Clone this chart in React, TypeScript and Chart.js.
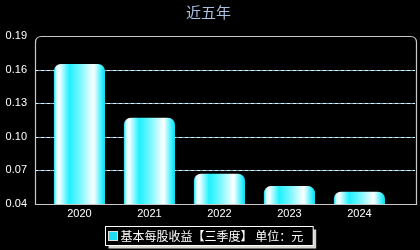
import React, { useEffect, useRef } from "react";
import { Chart, registerables } from "chart.js";

Chart.register(...registerables);

const categories = ["2020", "2021", "2022", "2023", "2024"];
const epsValues = [0.165, 0.117, 0.067, 0.056, 0.051];
const yTicks = [0.04, 0.07, 0.1, 0.13, 0.16, 0.19];
const titleText = "近五年";
const seriesLabel = "基本每股收益【三季度】 单位：元";

const barGradientPlugin = {
  id: "barGradient",
  beforeDatasetsDraw(chart: any) {
    const ctx = chart.ctx;
    const y = chart.scales.y;
    const a = chart.chartArea;
    ctx.save();
    ctx.lineWidth = 1;
    yTicks.slice(1, -1).forEach((v) => {
      const py = Math.round(y.getPixelForValue(v)) + 0.5;
      ctx.setLineDash([3, 3]);
      ctx.lineDashOffset = 0;
      ctx.strokeStyle = "#e8f4f8";
      ctx.beginPath();
      ctx.moveTo(a.left, py);
      ctx.lineTo(a.right - 1, py);
      ctx.stroke();
      ctx.lineDashOffset = 3;
      ctx.strokeStyle = "#7fb0c8";
      ctx.beginPath();
      ctx.moveTo(a.left, py);
      ctx.lineTo(a.right - 1, py);
      ctx.stroke();
    });
    ctx.restore();

    const meta = chart.getDatasetMeta(0);
    meta.data.forEach((el: any) => {
      const w = el.width;
      const x0 = el.x - w / 2;
      const g = ctx.createLinearGradient(x0, 0, x0 + w, 0);
      g.addColorStop(0, "#18dcec");
      g.addColorStop(0.05, "#c8fcff");
      g.addColorStop(0.1, "#ffffff");
      g.addColorStop(0.3, "#1ef2ff");
      g.addColorStop(0.5, "#70f6ff");
      g.addColorStop(0.78, "#ffffff");
      g.addColorStop(0.94, "#30f0ff");
      g.addColorStop(1, "#10d8ea");
      el.options.backgroundColor = g;
    });
  },
};

const framePlugin = {
  id: "frame",
  beforeDraw(chart: any) {
    const ctx = chart.ctx;
    ctx.save();
    ctx.fillStyle = "#000";
    ctx.fillRect(0, 0, chart.width, chart.height);
    ctx.restore();
  },
  afterDraw(chart: any) {
    const ctx = chart.ctx;
    const a = chart.chartArea;
    ctx.save();
    const r = 6;
    const l = Math.round(a.left) + 0.5;
    const t = Math.round(a.top) + 0.5;
    const rt = Math.round(a.right) + 0.5;
    const b = Math.round(a.bottom) + 0.5;
    ctx.strokeStyle = "#c8c8c8";
    ctx.lineWidth = 1.2;
    ctx.beginPath();
    ctx.moveTo(l, b);
    ctx.lineTo(l, t + r);
    ctx.quadraticCurveTo(l, t, l + r, t);
    ctx.lineTo(rt - r, t);
    ctx.quadraticCurveTo(rt, t, rt, t + r);
    ctx.lineTo(rt, b);
    ctx.closePath();
    ctx.stroke();

    ctx.fillStyle = "#a8c0e0";
    ctx.font = "15px 'Noto Sans CJK SC', sans-serif";
    ctx.textAlign = "center";
    ctx.textBaseline = "middle";
    ctx.fillText(titleText, 208.5, 12);

    const label = chart.data.datasets[0].label;
    ctx.font = "12px 'Noto Sans CJK SC', sans-serif";
    const tw = ctx.measureText(label).width;
    const bx = 105.5;
    const bw = tw + 25;
    const bh = 19;
    const by = 226.5;
    ctx.fillStyle = "#d8d8d0";
    ctx.fillRect(bx + 3, by + 3, bw, bh);
    ctx.fillStyle = "#000";
    ctx.fillRect(bx, by, bw, bh);
    ctx.strokeStyle = "#ffffff";
    ctx.lineWidth = 1;
    ctx.strokeRect(bx, by, bw, bh);
    ctx.fillStyle = "#20dcf0";
    ctx.fillRect(bx + 3, by + 5, 9, 9);
    ctx.strokeStyle = "#e0e0e0";
    ctx.strokeRect(bx + 3, by + 5, 9, 9);
    ctx.fillStyle = "#ffffff";
    ctx.textAlign = "left";
    ctx.textBaseline = "middle";
    ctx.fillText(label, bx + 15, by + bh / 2 + 0.5);
    ctx.restore();
  },
};

export default function App() {
  const ref = useRef<HTMLCanvasElement | null>(null);
  useEffect(() => {
    document.body.style.margin = "0";
    document.body.style.background = "#000";
    const chart = new Chart(ref.current as HTMLCanvasElement, {
      type: "bar",
      data: {
        datasets: [
          {
            label: seriesLabel,
            data: epsValues.map((v, i) => ({ x: i, y: v })),
            backgroundColor: () => "#1ef2ff",
            borderWidth: 0,
            borderRadius: { topLeft: 7, topRight: 7, bottomLeft: 0, bottomRight: 0 },
            borderSkipped: "start",
            categoryPercentage: 1,
            barPercentage: 0.73,
          },
        ],
      },
      options: {
        animation: false,
        responsive: false,
        devicePixelRatio: 1,
        layout: { padding: { left: 0, right: 4, top: 36, bottom: 0 } },
        plugins: {
          legend: { display: false },
          title: { display: false },
          tooltip: { enabled: false },
        },
        scales: {
          x: {
            type: "linear",
            offset: false,
            min: -0.635,
            max: 4.808,
            afterBuildTicks(scale: any) {
              scale.ticks = categories.map((_, i) => ({ value: i }));
            },
            grid: { display: false, drawTicks: false, offset: false },
            border: { display: false },
            ticks: {
              color: "#ffffff",
              padding: 3,
              font: { family: "'Liberation Sans', Arial, sans-serif", size: 11 },
              callback: (v: any) => categories[Math.round(Number(v))],
            },
            afterFit(scale: any) {
              scale.height = 46;
            },
          },
          y: {
            min: yTicks[0],
            max: yTicks[yTicks.length - 1],
            afterBuildTicks(scale: any) {
              scale.ticks = yTicks.map((v) => ({ value: v }));
            },
            grid: { display: false, drawTicks: false },
            border: { display: false },
            ticks: {
              color: "#ffffff",
              padding: 8,
              font: { family: "'Liberation Sans', Arial, sans-serif", size: 11 },
              callback: (v: any) => Number(v).toFixed(2),
            },
            afterFit(scale: any) {
              scale.width = 35;
            },
          },
        },
      },
      plugins: [barGradientPlugin, framePlugin],
    });
    return () => chart.destroy();
  }, []);
  return (
    <div style={{ position: "absolute", left: 0, top: 0, width: 420, height: 250, background: "#000" }}>
      <canvas ref={ref} width={420} height={250} />
    </div>
  );
}
